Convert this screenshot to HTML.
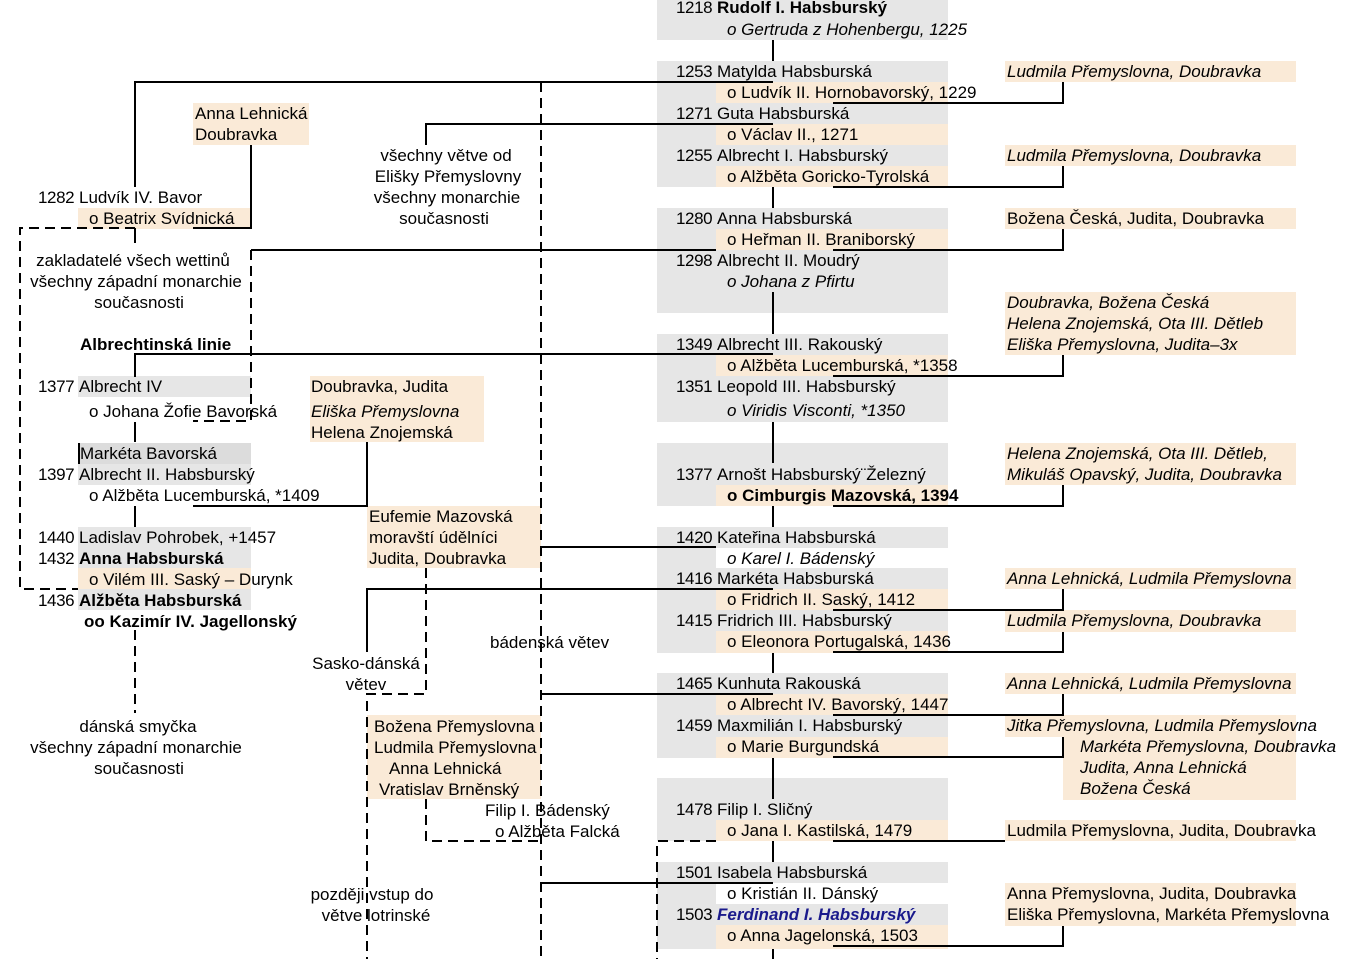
<!DOCTYPE html>
<html><head><meta charset="utf-8"><style>
body{margin:0;width:1348px;height:959px;position:relative;overflow:hidden;background:#fff;font-family:"Liberation Sans",sans-serif;font-size:17px;color:#000}
.b{position:absolute}
.g{background:#e6e6e6}
.p{background:#faead7}
.d{background:#dcdcdc}
.t{position:absolute;white-space:nowrap;line-height:21px;height:21px}
.y{letter-spacing:-0.4px}
.c{text-align:center;transform:translateX(-50%)}
i{font-style:italic}
svg{position:absolute;left:0;top:0}
</style></head><body>
<div class="b g" style="left:657px;top:0;width:291px;height:40px"></div>
<div class="b g" style="left:657px;top:61px;width:291px;height:126px"></div>
<div class="b g" style="left:657px;top:208px;width:291px;height:105px"></div>
<div class="b g" style="left:657px;top:334px;width:291px;height:88px"></div>
<div class="b g" style="left:657px;top:443px;width:291px;height:63px"></div>
<div class="b g" style="left:657px;top:527px;width:291px;height:126px"></div>
<div class="b" style="left:716px;top:548px;width:232px;height:20px;background:#fff"></div>
<div class="b g" style="left:657px;top:673px;width:291px;height:85px"></div>
<div class="b g" style="left:657px;top:778px;width:291px;height:63px"></div>
<div class="b g" style="left:657px;top:862px;width:291px;height:87px"></div>
<div class="b" style="left:716px;top:883px;width:232px;height:21px;background:#fff"></div>
<div class="b p" style="left:716px;top:82px;width:232px;height:21px"></div>
<div class="b p" style="left:716px;top:124px;width:232px;height:21px"></div>
<div class="b p" style="left:716px;top:166px;width:232px;height:21px"></div>
<div class="b p" style="left:716px;top:229px;width:232px;height:21px"></div>
<div class="b p" style="left:716px;top:355px;width:232px;height:21px"></div>
<div class="b p" style="left:716px;top:485px;width:232px;height:21px"></div>
<div class="b p" style="left:716px;top:589px;width:232px;height:21px"></div>
<div class="b p" style="left:716px;top:631px;width:232px;height:22px"></div>
<div class="b p" style="left:716px;top:694px;width:232px;height:21px"></div>
<div class="b p" style="left:716px;top:737px;width:232px;height:21px"></div>
<div class="b p" style="left:716px;top:820px;width:232px;height:21px"></div>
<div class="b p" style="left:716px;top:925px;width:232px;height:24px"></div>
<div class="b p" style="left:1005px;top:61px;width:291px;height:21px"></div>
<div class="b p" style="left:1005px;top:145px;width:291px;height:21px"></div>
<div class="b p" style="left:1005px;top:208px;width:291px;height:21px"></div>
<div class="b p" style="left:1005px;top:292px;width:291px;height:63px"></div>
<div class="b p" style="left:1005px;top:443px;width:291px;height:42px"></div>
<div class="b p" style="left:1005px;top:568px;width:291px;height:21px"></div>
<div class="b p" style="left:1005px;top:610px;width:291px;height:22px"></div>
<div class="b p" style="left:1005px;top:673px;width:291px;height:21px"></div>
<div class="b p" style="left:1005px;top:715px;width:291px;height:22px"></div>
<div class="b p" style="left:1063px;top:737px;width:233px;height:63px"></div>
<div class="b p" style="left:1005px;top:820px;width:291px;height:21px"></div>
<div class="b p" style="left:1005px;top:883px;width:291px;height:43px"></div>
<div class="b p" style="left:193px;top:103px;width:116px;height:42px"></div>
<div class="b p" style="left:78px;top:208px;width:173px;height:21px"></div>
<div class="b g" style="left:78px;top:376px;width:173px;height:21px"></div>
<div class="b p" style="left:310px;top:376px;width:174px;height:66px"></div>
<div class="b d" style="left:78px;top:443px;width:173px;height:21px;border-left:2px solid #000;box-sizing:border-box"></div>
<div class="b g" style="left:78px;top:464px;width:173px;height:21px"></div>
<div class="b g" style="left:78px;top:527px;width:173px;height:41px"></div>
<div class="b p" style="left:78px;top:568px;width:173px;height:21px"></div>
<div class="b g" style="left:78px;top:589px;width:173px;height:21px"></div>
<div class="b p" style="left:367px;top:506px;width:174px;height:62px"></div>
<div class="b p" style="left:367px;top:715px;width:174px;height:84px"></div>

<svg width="1348" height="959">
<g stroke="#000" stroke-width="2" fill="none">
<path d="M773 40V61M773 187V208M773 292V334M773 422V463M773 506V527M773 653V673M773 758V799M773 841V862M773 949V959"/>
<path d="M135 187V82H773M426 145V124H773M716 250H251M135 377V354H773M135 422V442M135 506V527M193 506H367V442M541 547H716M367 652V589H773M541 694H773M541 883H773M193 228H251V145M135 228V243"/>
<path d="M833 103H1063V82M833 187H1063V166M833 250H1063V229M833 376H1063V355M833 506H1063V485M833 610H1063V589M833 652H1063V632M833 715H1063V694M833 757H1063V737M833 841H1005M833 946H1063V926"/>
</g>
<g stroke="#000" stroke-width="2" fill="none" stroke-dasharray="10,6">
<path d="M135 228H20V589H78"/>
<path d="M251 250V421H193"/>
<path d="M541 82V959"/>
<path d="M426 568V694H367V959"/>
<path d="M426 799V841H541"/>
<path d="M716 841H657V959"/>
<path d="M135 630V713"/>
</g>
</svg>

<div class="t y" style="left:676px;top:-3px">1218</div><div class="t" style="left:717px;top:-3px"><b>Rudolf I. Habsburský</b></div>
<div class="t" style="left:727px;top:19px"><i>o Gertruda z Hohenbergu, 1225</i></div>
<div class="t y" style="left:676px;top:61px">1253</div><div class="t" style="left:717px;top:61px">Matylda Habsburská</div>
<div class="t" style="left:727px;top:82px">o Ludvík II. Hornobavorský, 1229</div>
<div class="t y" style="left:676px;top:103px">1271</div><div class="t" style="left:717px;top:103px">Guta Habsburská</div>
<div class="t" style="left:727px;top:124px">o Václav II., 1271</div>
<div class="t y" style="left:676px;top:145px">1255</div><div class="t" style="left:717px;top:145px">Albrecht I. Habsburský</div>
<div class="t" style="left:727px;top:166px">o Alžběta Goricko-Tyrolská</div>
<div class="t y" style="left:676px;top:208px">1280</div><div class="t" style="left:717px;top:208px">Anna Habsburská</div>
<div class="t" style="left:727px;top:229px">o Heřman II. Braniborský</div>
<div class="t y" style="left:676px;top:250px">1298</div><div class="t" style="left:717px;top:250px">Albrecht II. Moudrý</div>
<div class="t" style="left:727px;top:271px"><i>o Johana z Pfirtu</i></div>
<div class="t y" style="left:676px;top:334px">1349</div><div class="t" style="left:717px;top:334px">Albrecht III. Rakouský</div>
<div class="t" style="left:727px;top:355px">o Alžběta Lucemburská, *1358</div>
<div class="t y" style="left:676px;top:376px">1351</div><div class="t" style="left:717px;top:376px">Leopold III. Habsburský</div>
<div class="t" style="left:727px;top:400px"><i>o Viridis Visconti, *1350</i></div>
<div class="t y" style="left:676px;top:464px">1377</div><div class="t" style="left:717px;top:464px">Arnošt Habsburský¨Železný</div>
<div class="t" style="left:727px;top:485px"><b>o Cimburgis Mazovská, 1394</b></div>
<div class="t y" style="left:676px;top:527px">1420</div><div class="t" style="left:717px;top:527px">Kateřina Habsburská</div>
<div class="t" style="left:727px;top:548px"><i>o Karel I. Bádenský</i></div>
<div class="t y" style="left:676px;top:568px">1416</div><div class="t" style="left:717px;top:568px">Markéta Habsburská</div>
<div class="t" style="left:727px;top:589px">o Fridrich II. Saský, 1412</div>
<div class="t y" style="left:676px;top:610px">1415</div><div class="t" style="left:717px;top:610px">Fridrich III. Habsburský</div>
<div class="t" style="left:727px;top:631px">o Eleonora Portugalská, 1436</div>
<div class="t y" style="left:676px;top:673px">1465</div><div class="t" style="left:717px;top:673px">Kunhuta Rakouská</div>
<div class="t" style="left:727px;top:694px">o Albrecht IV. Bavorský, 1447</div>
<div class="t y" style="left:676px;top:715px">1459</div><div class="t" style="left:717px;top:715px">Maxmilián I. Habsburský</div>
<div class="t" style="left:727px;top:736px">o Marie Burgundská</div>
<div class="t y" style="left:676px;top:799px">1478</div><div class="t" style="left:717px;top:799px">Filip I. Sličný</div>
<div class="t" style="left:727px;top:820px">o Jana I. Kastilská, 1479</div>
<div class="t y" style="left:676px;top:862px">1501</div><div class="t" style="left:717px;top:862px">Isabela Habsburská</div>
<div class="t" style="left:727px;top:883px">o Kristián II. Dánský</div>
<div class="t y" style="left:676px;top:904px">1503</div><div class="t" style="left:717px;top:904px;color:#1a1a8c"><b><i>Ferdinand I. Habsburský</i></b></div>
<div class="t" style="left:727px;top:925px">o Anna Jagelonská, 1503</div>

<div class="t" style="left:1007px;top:61px"><i>Ludmila Přemyslovna, Doubravka</i></div>
<div class="t" style="left:1007px;top:145px"><i>Ludmila Přemyslovna, Doubravka</i></div>
<div class="t" style="left:1007px;top:208px">Božena Česká, Judita, Doubravka</div>
<div class="t" style="left:1007px;top:292px"><i>Doubravka, Božena Česká</i></div>
<div class="t" style="left:1007px;top:313px"><i>Helena Znojemská, Ota III. Dětleb</i></div>
<div class="t" style="left:1007px;top:334px"><i>Eliška Přemyslovna, Judita–3x</i></div>
<div class="t" style="left:1007px;top:443px"><i>Helena Znojemská, Ota III. Dětleb,</i></div>
<div class="t" style="left:1007px;top:464px"><i>Mikuláš Opavský, Judita, Doubravka</i></div>
<div class="t" style="left:1007px;top:568px"><i>Anna Lehnická, Ludmila Přemyslovna</i></div>
<div class="t" style="left:1007px;top:610px"><i>Ludmila Přemyslovna, Doubravka</i></div>
<div class="t" style="left:1007px;top:673px"><i>Anna Lehnická, Ludmila Přemyslovna</i></div>
<div class="t" style="left:1007px;top:715px"><i>Jitka Přemyslovna, Ludmila Přemyslovna</i></div>
<div class="t" style="left:1080px;top:736px"><i>Markéta Přemyslovna, Doubravka</i></div>
<div class="t" style="left:1080px;top:757px"><i>Judita, Anna Lehnická</i></div>
<div class="t" style="left:1080px;top:778px"><i>Božena Česká</i></div>
<div class="t" style="left:1007px;top:820px">Ludmila Přemyslovna, Judita, Doubravka</div>
<div class="t" style="left:1007px;top:883px">Anna Přemyslovna, Judita, Doubravka</div>
<div class="t" style="left:1007px;top:904px">Eliška Přemyslovna, Markéta Přemyslovna</div>

<div class="t" style="left:195px;top:103px">Anna Lehnická</div>
<div class="t" style="left:195px;top:124px">Doubravka</div>
<div class="t c" style="left:446px;top:145px">všechny větve od</div>
<div class="t c" style="left:448px;top:166px">Elišky Přemyslovny</div>
<div class="t c" style="left:447px;top:187px">všechny monarchie</div>
<div class="t c" style="left:444px;top:208px">současnosti</div>
<div class="t y" style="left:38px;top:187px">1282</div><div class="t" style="left:79px;top:187px">Ludvík IV. Bavor</div>
<div class="t" style="left:89px;top:208px">o Beatrix Svídnická</div>
<div class="t c" style="left:133px;top:250px">zakladatelé všech wettinů</div>
<div class="t c" style="left:136px;top:271px">všechny západní monarchie</div>
<div class="t c" style="left:139px;top:292px">současnosti</div>
<div class="t" style="left:80px;top:334px"><b>Albrechtinská linie</b></div>
<div class="t y" style="left:38px;top:376px">1377</div><div class="t" style="left:79px;top:376px">Albrecht IV</div>
<div class="t" style="left:89px;top:401px">o Johana Žofie Bavorská</div>
<div class="t" style="left:311px;top:376px">Doubravka, Judita</div>
<div class="t" style="left:311px;top:401px"><i>Eliška Přemyslovna</i></div>
<div class="t" style="left:311px;top:422px">Helena Znojemská</div>
<div class="t" style="left:80px;top:443px">Markéta Bavorská</div>
<div class="t y" style="left:38px;top:464px">1397</div><div class="t" style="left:79px;top:464px">Albrecht II. Habsburský</div>
<div class="t" style="left:89px;top:485px">o Alžběta Lucemburská, *1409</div>
<div class="t" style="left:369px;top:506px">Eufemie Mazovská</div>
<div class="t" style="left:369px;top:527px">moravští údělníci</div>
<div class="t" style="left:369px;top:548px">Judita, Doubravka</div>
<div class="t y" style="left:38px;top:527px">1440</div><div class="t" style="left:79px;top:527px">Ladislav Pohrobek, +1457</div>
<div class="t y" style="left:38px;top:548px">1432</div><div class="t" style="left:79px;top:548px"><b>Anna Habsburská</b></div>
<div class="t" style="left:89px;top:569px">o Vilém III. Saský – Durynk</div>
<div class="t y" style="left:38px;top:590px">1436</div><div class="t" style="left:79px;top:590px"><b>Alžběta Habsburská</b></div>
<div class="t" style="left:84px;top:611px"><b>oo Kazimír IV. Jagellonský</b></div>
<div class="t" style="left:490px;top:632px">bádenská větev</div>
<div class="t c" style="left:366px;top:653px">Sasko-dánská</div>
<div class="t c" style="left:366px;top:674px">větev</div>
<div class="t c" style="left:138px;top:716px">dánská smyčka</div>
<div class="t c" style="left:136px;top:737px">všechny západní monarchie</div>
<div class="t c" style="left:139px;top:758px">současnosti</div>
<div class="t" style="left:374px;top:716px">Božena Přemyslovna</div>
<div class="t" style="left:374px;top:737px">Ludmila Přemyslovna</div>
<div class="t" style="left:389px;top:758px">Anna Lehnická</div>
<div class="t" style="left:379px;top:779px">Vratislav Brněnský</div>
<div class="t" style="left:485px;top:800px">Filip I. Bádenský</div>
<div class="t" style="left:495px;top:821px">o Alžběta Falcká</div>
<div class="t c" style="left:372px;top:884px">později vstup do</div>
<div class="t c" style="left:376px;top:905px">větve lotrinské</div>
</body></html>
